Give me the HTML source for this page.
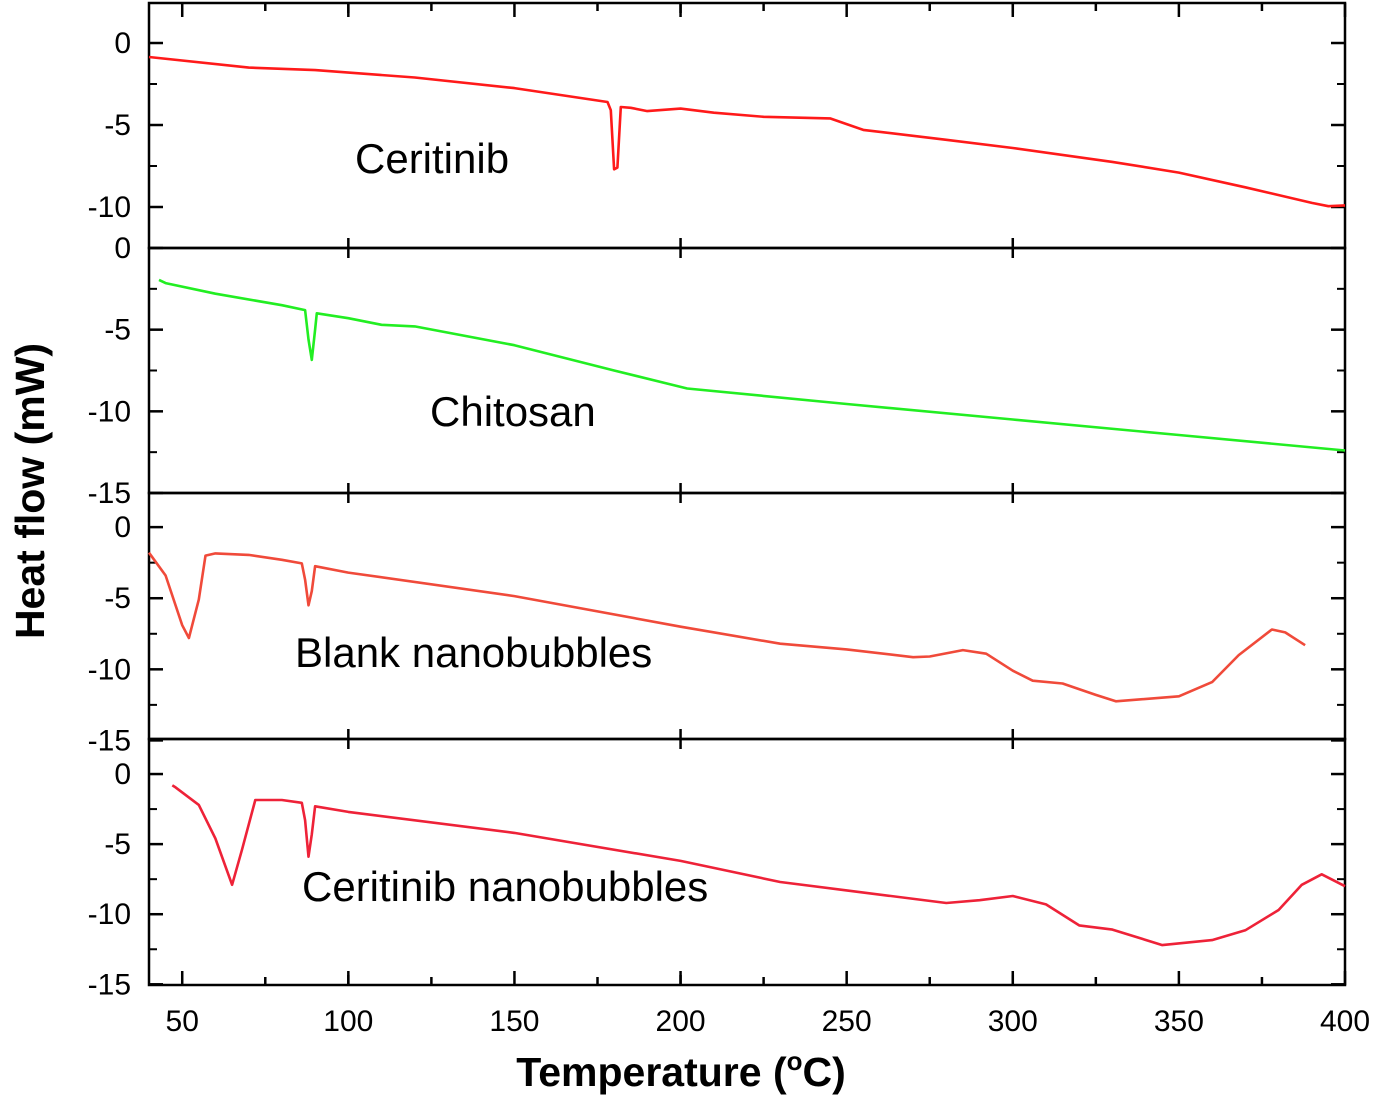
<!DOCTYPE html>
<html><head><meta charset="utf-8"><style>
body{margin:0;background:#fff}
svg text{font-family:"Liberation Sans",Arial,sans-serif;fill:#000}
</style></head><body>
<svg id="c" width="1379" height="1098"></svg>
<script>
const xTicks=[50,100,150,200,250,300,350,400];
const yTicks=[0,-5,-10,-15];
const cerX=[40,70,90,120,150,178,179,180,181,182,185,190,200,210,225,245,255,280,300,330,350,370,390,395,400];
const cerY=[-0.85,-1.5,-1.65,-2.1,-2.75,-3.6,-4.1,-7.7,-7.6,-3.9,-3.95,-4.15,-4.0,-4.25,-4.5,-4.6,-5.3,-5.9,-6.4,-7.25,-7.9,-8.8,-9.75,-9.95,-9.9];
const chiX=[43,45,60,80,87,88,89,90,90.5,100,110,120,150,180,202,250,300,350,400];
const chiY=[-1.95,-2.15,-2.8,-3.5,-3.8,-5.6,-6.85,-5,-4,-4.3,-4.7,-4.8,-5.95,-7.5,-8.6,-9.55,-10.5,-11.45,-12.4];
const blkX=[40,45,50,52,55,57,60,70,80,86,87,88,89,90,100,150,200,230,250,270,275,285,292,300,306,315,325,331,350,360,368,378,382,388];
const blkY=[-1.8,-3.4,-6.9,-7.8,-5.1,-2.0,-1.85,-1.95,-2.3,-2.55,-3.7,-5.5,-4.5,-2.75,-3.2,-4.85,-7,-8.2,-8.6,-9.15,-9.1,-8.65,-8.9,-10.1,-10.8,-11.0,-11.8,-12.25,-11.9,-10.9,-9,-7.2,-7.4,-8.3];
const cnbX=[47,48,55,60,65,68,72,80,86,87,88,89,90,100,150,200,230,250,280,290,300,310,320,330,345,360,370,380,387,393,400];
const cnbY=[-0.8,-0.95,-2.2,-4.6,-7.9,-5.4,-1.85,-1.85,-2.05,-3.3,-5.9,-4.3,-2.3,-2.7,-4.2,-6.2,-7.7,-8.3,-9.2,-9.0,-8.7,-9.3,-10.8,-11.1,-12.2,-11.85,-11.15,-9.7,-7.9,-7.15,-8];
const labels=["Ceritinib","Chitosan","Blank nanobubbles","Ceritinib nanobubbles"];
const NS="http://www.w3.org/2000/svg",svg=document.getElementById('c');
const X0=149,X1=1345,xmin=40,xmax=400;
const sx=v=>X0+(v-xmin)/(xmax-xmin)*(X1-X0);
const panels=[
 {top:3,bot:248,vmax:2.44,vmin:-12.5,xs:cerX,ys:cerY,col:"#ff1a1a",lab:[355,173],ticks:[0,-5,-10],minor:[-2.5,-7.5,-12.5,2.5]},
 {top:248,bot:493,vmax:0,vmin:-15,xs:chiX,ys:chiY,col:"#22ee22",lab:[430,426],ticks:[0,-5,-10,-15],minor:[-2.5,-7.5,-12.5]},
 {top:493,bot:739,vmax:2.4,vmin:-14.9,xs:blkX,ys:blkY,col:"#f04a3a",lab:[295,667],ticks:[0,-5,-10,-15],minor:[-2.5,-7.5,-12.5]},
 {top:739,bot:985,vmax:2.5,vmin:-15.05,xs:cnbX,ys:cnbY,col:"#ee2238",lab:[302,901],ticks:[0,-5,-10,-15],minor:[-2.5,-7.5,-12.5]}];
function mk(t,a,p){const e=document.createElementNS(NS,t);for(const k in a)e.setAttribute(k,a[k]);(p||svg).appendChild(e);return e;}
panels.forEach((P,i)=>{
 const g=mk('g',{});
 
 
 const sy=v=>P.top+(P.vmax-v)/(P.vmax-P.vmin)*(P.bot-P.top);
 mk('rect',{x:X0,y:P.top,width:X1-X0,height:P.bot-P.top,fill:'none',stroke:'#000','stroke-width':2.5},g);
 P.ticks.forEach(v=>{const y=sy(v);
  mk('line',{x1:X0,x2:X0+14,y1:y,y2:y,stroke:'#000','stroke-width':2.5},g);
  mk('line',{x1:X1,x2:X1-14,y1:y,y2:y,stroke:'#000','stroke-width':2.5},g);
  const t=mk('text',{x:131,y:y+10,'text-anchor':'end','font-size':30},g);t.textContent=v;
  });
 P.minor.forEach(v=>{const y=sy(v);if(y<P.top+2||y>P.bot-2)return;
  mk('line',{x1:X0,x2:X0+8,y1:y,y2:y,stroke:'#000','stroke-width':2},g);
  mk('line',{x1:X1,x2:X1-8,y1:y,y2:y,stroke:'#000','stroke-width':2},g);});
 [100,200,300].forEach(v=>{const x=sx(v);
  mk('line',{x1:x,x2:x,y1:P.top,y2:P.top+10,stroke:'#000','stroke-width':2.5},g);
  mk('line',{x1:x,x2:x,y1:P.bot,y2:P.bot-10,stroke:'#000','stroke-width':2.5},g);});
 let d='';P.xs.forEach((x,j)=>{d+=(j?'L':'M')+sx(x).toFixed(1)+','+sy(P.ys[j]).toFixed(1);});
 const p=mk('path',{d:d,fill:'none',stroke:P.col,'stroke-width':2.6,'stroke-linejoin':'round'},g);
 
 
 const t=mk('text',{x:P.lab[0],y:P.lab[1],'font-size':42},g);t.textContent=labels[i];
 
});
for(let v=50;v<=400;v+=25){const x=sx(v),maj=v%50===0;
 mk('line',{x1:x,x2:x,y1:985,y2:985-(maj?14:8),stroke:'#000','stroke-width':2.5});
 mk('line',{x1:x,x2:x,y1:3,y2:3+(maj?14:8),stroke:'#000','stroke-width':2.5});}
xTicks.forEach(v=>{const t=mk('text',{x:sx(v),y:1031,'text-anchor':'middle','font-size':30});t.textContent=v;
 });
const xt=mk('text',{x:681,y:1086,'text-anchor':'middle','font-size':41,'font-weight':'bold'});
xt.innerHTML='Temperature (<tspan dy="-16" font-size="26">o</tspan><tspan dy="16">C)</tspan>';

const yt=mk('text',{x:0,y:0,'text-anchor':'middle','font-size':41,'font-weight':'bold',transform:'translate(44,491) rotate(-90)'});
yt.textContent='Heat flow (mW)';

</script></body></html>
